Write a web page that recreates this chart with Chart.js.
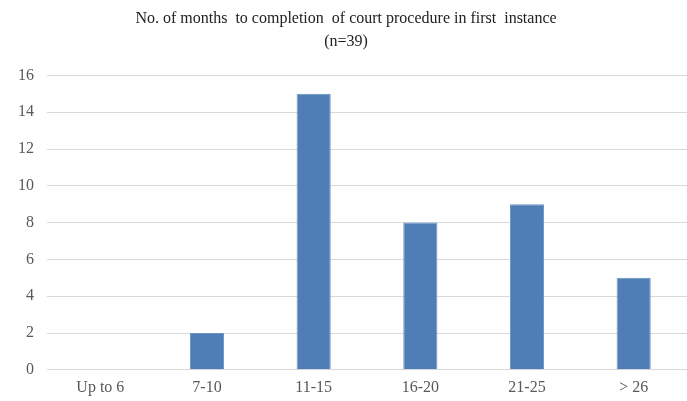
<!DOCTYPE html>
<html lang="en">
<head>
<meta charset="UTF-8">
<title>No. of months to completion of court procedure</title>
<script src="https://cdn.jsdelivr.net/npm/chart.js@4/dist/chart.umd.min.js"></script>
<style>
  html, body { margin: 0; padding: 0; background: #fff; }
  .box { position: relative; width: 687px; height: 401px; }
</style>
</head>
<body>
<div class="box"><canvas id="chart"></canvas></div>
<script>
// Daten
const categories = ['Up to 6', '7-10', '11-15', '16-20', '21-25', '> 26'];
const counts     = [0, 2, 15, 8, 9, 5];
const titleLines = ['No. of months  to completion  of court procedure in first  instance', '(n=39)'];

const serif = '"Liberation Serif", "Times New Roman", serif';

new Chart(document.getElementById('chart'), {
  type: 'bar',
  data: {
    labels: categories,
    datasets: [{
      data: counts,
      backgroundColor: '#4f7db6',
      borderColor: '#6a93c6',
      borderWidth: 1,
      barPercentage: 0.64,
      categoryPercentage: 0.5,
    }]
  },
  options: {
    responsive: true,
    maintainAspectRatio: false,
    animation: false,
    layout: { padding: { left: 5, right: 0, top: 5, bottom: 4 } },
    plugins: {
      legend: { display: false },
      tooltip: { enabled: false },
      title: {
        display: true,
        text: titleLines,
        color: '#222',
        font: { family: serif, size: 16, weight: 'normal', lineHeight: 1.45 },
        padding: { top: 2, bottom: 22 }
      }
    },
    scales: {
      x: {
        grid: { display: false },
        border: { color: '#d9d9d9' },
        ticks: { color: '#595959', font: { family: serif, size: 16 }, padding: 0 }
      },
      y: {
        min: 0, max: 16,
        ticks: { stepSize: 2, color: '#595959', font: { family: serif, size: 16 }, padding: 13 },
        grid: { color: '#d9d9d9', drawTicks: false },
        border: { display: false }
      }
    }
  }
});
</script>
</body>
</html>
